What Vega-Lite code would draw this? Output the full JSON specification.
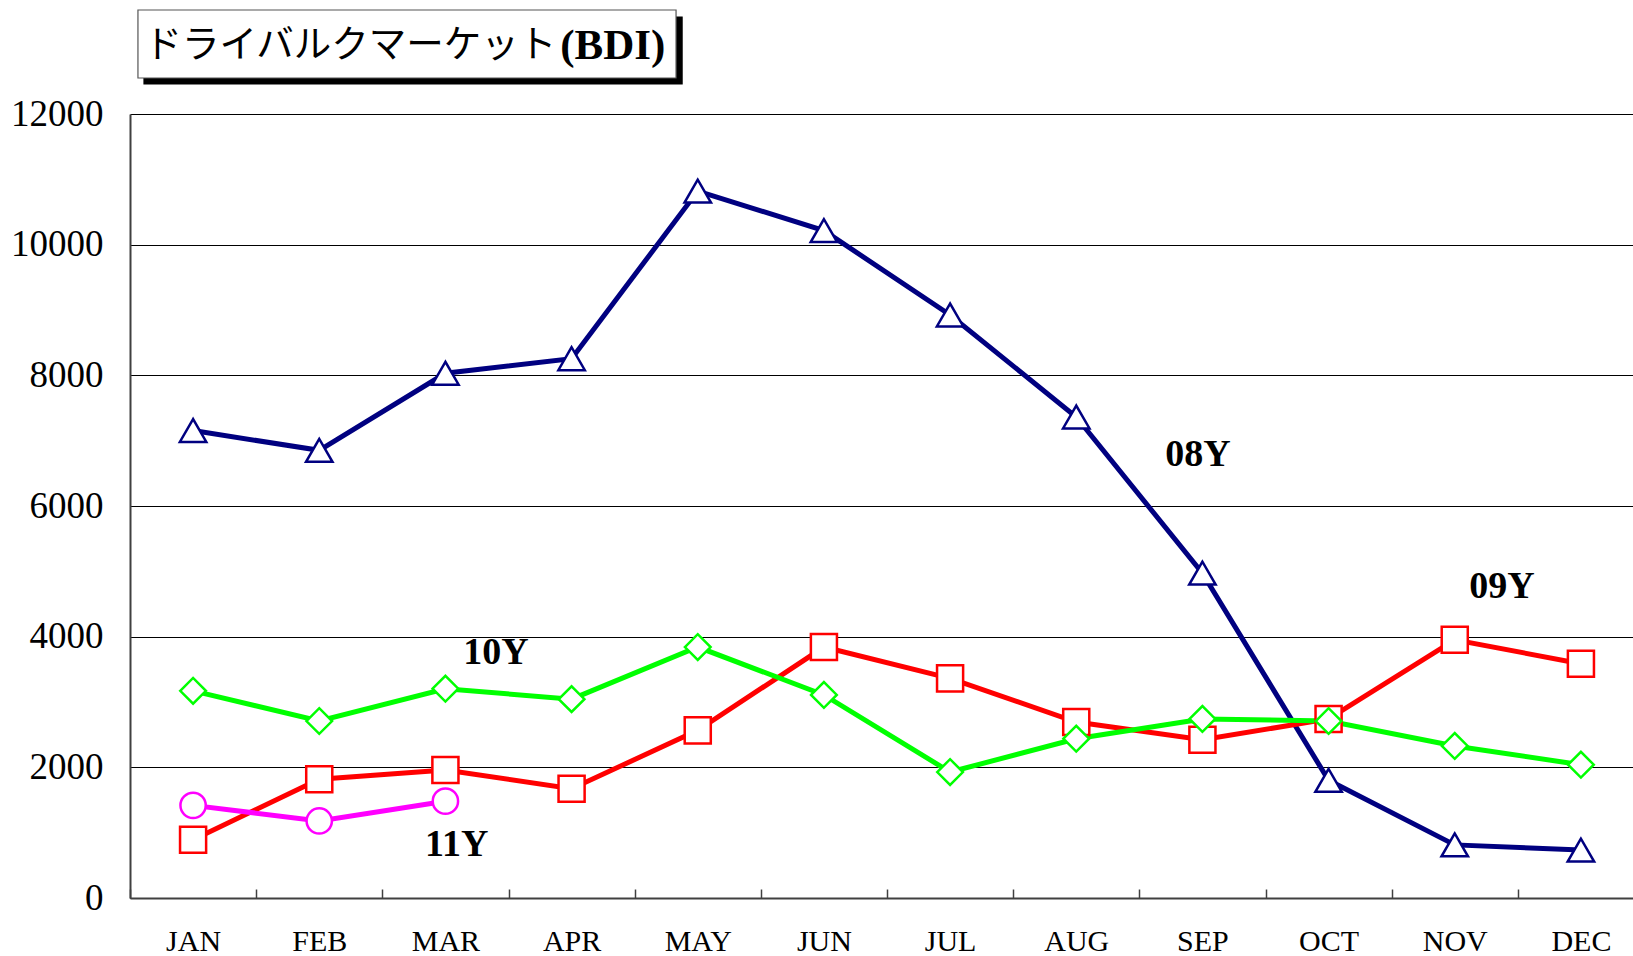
{
  "$schema": "https://vega.github.io/schema/vega-lite/v6.json",
  "autosize": {"type": "none"},
  "width": 1503,
  "height": 784,
  "padding": {"left": 130, "top": 114, "right": 0, "bottom": 58},
  "background": "white",
  "config": {"view": {"stroke": null}, "font": "Liberation Serif"},
  "datasets": {
    "bdi": [
      {"month": "JAN", "series": "08Y", "value": 7155},
      {"month": "FEB", "series": "08Y", "value": 6852},
      {"month": "MAR", "series": "08Y", "value": 8032},
      {"month": "APR", "series": "08Y", "value": 8255},
      {"month": "MAY", "series": "08Y", "value": 10820},
      {"month": "JUN", "series": "08Y", "value": 10215},
      {"month": "JUL", "series": "08Y", "value": 8924},
      {"month": "AUG", "series": "08Y", "value": 7362},
      {"month": "SEP", "series": "08Y", "value": 4972},
      {"month": "OCT", "series": "08Y", "value": 1801},
      {"month": "NOV", "series": "08Y", "value": 813},
      {"month": "DEC", "series": "08Y", "value": 733},
      {"month": "JAN", "series": "09Y", "value": 892},
      {"month": "FEB", "series": "09Y", "value": 1817},
      {"month": "MAR", "series": "09Y", "value": 1960},
      {"month": "APR", "series": "09Y", "value": 1673},
      {"month": "MAY", "series": "09Y", "value": 2566},
      {"month": "JUN", "series": "09Y", "value": 3841},
      {"month": "JUL", "series": "09Y", "value": 3362},
      {"month": "AUG", "series": "09Y", "value": 2693},
      {"month": "SEP", "series": "09Y", "value": 2422},
      {"month": "OCT", "series": "09Y", "value": 2741},
      {"month": "NOV", "series": "09Y", "value": 3952},
      {"month": "DEC", "series": "09Y", "value": 3586},
      {"month": "JAN", "series": "10Y", "value": 3171},
      {"month": "FEB", "series": "10Y", "value": 2709},
      {"month": "MAR", "series": "10Y", "value": 3203},
      {"month": "APR", "series": "10Y", "value": 3044},
      {"month": "MAY", "series": "10Y", "value": 3841},
      {"month": "JUN", "series": "10Y", "value": 3108},
      {"month": "JUL", "series": "10Y", "value": 1928},
      {"month": "AUG", "series": "10Y", "value": 2438},
      {"month": "SEP", "series": "10Y", "value": 2741},
      {"month": "OCT", "series": "10Y", "value": 2709},
      {"month": "NOV", "series": "10Y", "value": 2327},
      {"month": "DEC", "series": "10Y", "value": 2040},
      {"month": "JAN", "series": "11Y", "value": 1418},
      {"month": "FEB", "series": "11Y", "value": 1179},
      {"month": "MAR", "series": "11Y", "value": 1482}
    ],
    "labels": [
      {"label": "08Y", "pos": 8.465, "value": 6781},
      {"label": "09Y", "pos": 10.874, "value": 4760},
      {"label": "10Y", "pos": 2.9, "value": 3750},
      {"label": "11Y", "pos": 2.59, "value": 811}
    ],
    "box": [
      {"part": "shadow", "x1": 0.111, "x2": 4.376, "y1": 12459, "y2": 13484},
      {"part": "box", "x1": 0.063, "x2": 4.328, "y1": 12551, "y2": 13592}
    ],
    "title": [
      {"text": "ドライバルクマーケット", "pos": 0.115, "value": 13040},
      {"text": "(BDI)", "pos": 3.41, "value": 13040}
    ]
  },
  "resolve": {"scale": {"x": "independent", "y": "independent", "fill": "independent", "stroke": "independent", "color": "independent"}},
  "layer": [
    {
      "data": {"name": "box"},
      "mark": {"type": "rect", "clip": false},
      "encoding": {
        "x": {"field": "x1", "type": "quantitative", "scale": {"domain": [0, 12], "range": [0, 1514], "nice": false, "zero": false}, "axis": null},
        "x2": {"field": "x2"},
        "y": {"field": "y1", "type": "quantitative", "scale": {"domain": [0, 12000], "nice": false, "zero": false}, "axis": null},
        "y2": {"field": "y2"},
        "fill": {"field": "part", "type": "nominal", "scale": {"domain": ["shadow", "box"], "range": ["#000000", "#ffffff"]}, "legend": null},
        "stroke": {"field": "part", "type": "nominal", "scale": {"domain": ["shadow", "box"], "range": ["#000000", "#555555"]}, "legend": null},
        "strokeWidth": {"value": 1.2},
        "order": {"field": "part", "sort": "descending"}
      }
    },
    {
      "data": {"name": "title"},
      "layer": [
        {
          "transform": [{"filter": "datum.text !== '(BDI)'"}],
          "mark": {"type": "text", "align": "left", "baseline": "middle", "font": "Noto Sans CJK JP", "fontSize": 37.5, "color": "black", "clip": false},
          "encoding": {
            "x": {"field": "pos", "type": "quantitative", "scale": {"domain": [0, 12], "range": [0, 1514], "nice": false, "zero": false}, "axis": null},
            "y": {"field": "value", "type": "quantitative", "scale": {"domain": [0, 12000], "nice": false, "zero": false}, "axis": null},
            "text": {"field": "text"}
          }
        },
        {
          "transform": [{"filter": "datum.text === '(BDI)'"}],
          "mark": {"type": "text", "align": "left", "baseline": "middle", "font": "Liberation Serif", "fontWeight": "bold", "fontSize": 43, "color": "black", "clip": false},
          "encoding": {
            "x": {"field": "pos", "type": "quantitative", "scale": {"domain": [0, 12], "range": [0, 1514], "nice": false, "zero": false}, "axis": null},
            "y": {"field": "value", "type": "quantitative", "scale": {"domain": [0, 12000], "nice": false, "zero": false}, "axis": null},
            "text": {"field": "text"}
          }
        }
      ]
    },
    {
      "data": {"name": "bdi"},
      "encoding": {
        "x": {
          "field": "month", "type": "ordinal", "sort": null, "bandPosition": 0.5,
          "scale": {"type": "band", "domain": ["JAN","FEB","MAR","APR","MAY","JUN","JUL","AUG","SEP","OCT","NOV","DEC"], "range": [0, 1514], "paddingInner": 0, "paddingOuter": 0},
          "axis": {
            "title": null, "labelAngle": 0, "tickBand": "extent", "tickSize": -9, "tickWidth": 1.5, "tickColor": "#404040",
            "domainColor": "#404040", "domainWidth": 2, "labelFont": "Liberation Serif", "labelFontSize": 30, "labelColor": "black",
            "labelPadding": 37, "grid": false
          }
        },
        "y": {
          "field": "value", "type": "quantitative",
          "scale": {"domain": [0, 12000], "nice": false, "zero": true},
          "axis": {
            "title": null, "values": [0, 2000, 4000, 6000, 8000, 10000, 12000], "format": "d", "ticks": false,
            "domainColor": "#404040", "domainWidth": 2, "grid": true, "gridColor": "#000000", "gridWidth": 1,
            "labelFont": "Liberation Serif", "labelFontSize": 37, "labelColor": "black", "labelPadding": 27
          }
        },
        "color": {"field": "series", "type": "nominal", "scale": {"domain": ["08Y","09Y","10Y","11Y"], "range": ["#000080","#ff0000","#00ff00","#ff00ff"]}, "legend": null}
      },
      "layer": [
        {
          "mark": {"type": "line", "strokeWidth": 5},
          "encoding": {"detail": {"field": "series"}}
        },
        {
          "mark": {"type": "point", "filled": false, "fill": "white", "fillOpacity": 1, "strokeWidth": 2.5, "opacity": 1},
          "encoding": {
            "shape": {"field": "series", "type": "nominal", "scale": {"domain": ["08Y","09Y","10Y","11Y"], "range": ["triangle-up","square","diamond","circle"]}, "legend": null},
            "size": {"field": "series", "type": "nominal", "scale": {"domain": ["08Y","09Y","10Y","11Y"], "range": [700, 640, 840, 810]}, "legend": null}
          }
        }
      ]
    },
    {
      "data": {"name": "labels"},
      "mark": {"type": "text", "align": "center", "baseline": "middle", "font": "Liberation Serif", "fontWeight": "bold", "fontSize": 38, "color": "black", "clip": false},
      "encoding": {
        "x": {"field": "pos", "type": "quantitative", "scale": {"domain": [0, 12], "range": [0, 1514], "nice": false, "zero": false}, "axis": null},
        "y": {"field": "value", "type": "quantitative", "scale": {"domain": [0, 12000], "nice": false, "zero": false}, "axis": null},
        "text": {"field": "label"}
      }
    }
  ]
}
